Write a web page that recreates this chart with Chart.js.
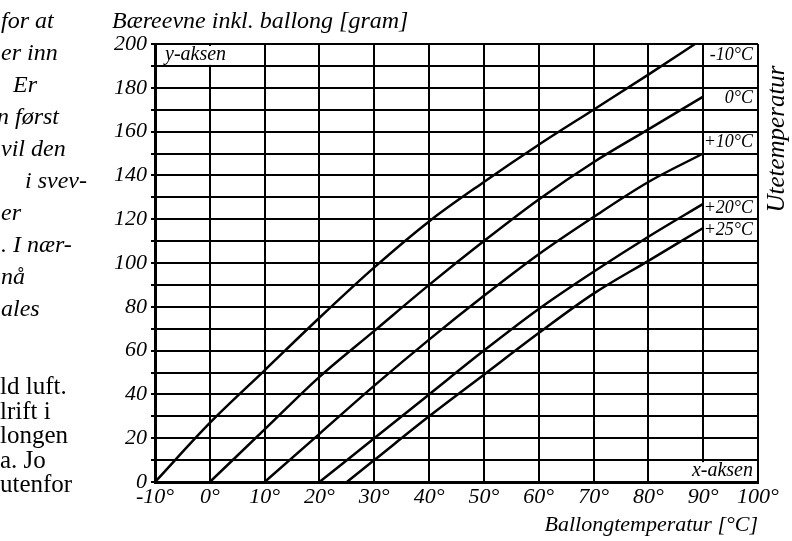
<!DOCTYPE html>
<html>
<head>
<meta charset="utf-8">
<script src="https://cdn.jsdelivr.net/npm/chart.js@4"></script>
<style>
    html, body { margin: 0; padding: 0; background: #fff; }
    #wrap { position: relative; width: 792px; height: 541px; overflow: hidden; }
    #chart { position: absolute; left: 0; top: 0; }
    .side { position: absolute; font-family: 'Liberation Serif', serif; color: #000; white-space: pre; }
    .side.it { font-style: italic; font-size: 24px; line-height: 24px; }
    .side.rg { font-size: 25px; line-height: 25px; }
</style>
</head>
<body>
<div id="wrap">
    <canvas id="chart" width="792" height="541"></canvas>
    <div id="sidetext"></div>
</div>
<script>
// Ballongtemperatur (x) og bæreevne i gram (y) for hver utetemperatur
const outsideTemps = ['-10°C', '0°C', '+10°C', '+20°C', '+25°C'];

const xMinus10 = [-10, 0, 10, 20, 30, 40, 50, 60, 70, 80, 88.5];
const yMinus10 = [0, 27, 51, 75, 98, 119, 137, 154, 170, 186, 200];

const xZero = [0, 10, 20, 30, 40, 50, 60, 70, 80, 90];
const yZero = [0, 24, 48, 69, 90, 110, 129, 146, 161, 176];

const xPlus10 = [10, 20, 30, 40, 50, 60, 70, 80, 90];
const yPlus10 = [0, 22, 44, 65, 85, 104, 121, 137, 150];

const xPlus20 = [20, 30, 40, 50, 60, 70, 80, 90];
const yPlus20 = [0, 20, 40, 60, 79, 96, 112, 127];

const xPlus25 = [25, 30, 40, 50, 60, 70, 80, 90];
const yPlus25 = [0, 10, 30, 49, 68, 86, 101, 116];

// rad (gram) der etiketten for hver kurve står i høyre kolonne
const labelRows = [195, 175, 155, 125, 115];

const xTicks = [-10, 0, 10, 20, 30, 40, 50, 60, 70, 80, 90, 100];

// avklipt brødtekst til venstre for diagrammet
const sideItalic = ['for at', 'er inn', '  Er', 'n først', 'vil den', '    i svev-', 'er', '. I nær-', 'nå', 'ales'];
const sideRegular = ['ld luft.', 'lrift i', 'longen', 'a. Jo', 'utenfor'];

const SERIF = "'Liberation Serif', 'Times New Roman', serif";

function toPoints(xs, ys) {
    return xs.map((x, i) => ({ x: x, y: ys[i] }));
}

const curves = [
    toPoints(xMinus10, yMinus10),
    toPoints(xZero, yZero),
    toPoints(xPlus10, yPlus10),
    toPoints(xPlus20, yPlus20),
    toPoints(xPlus25, yPlus25)
];

// side text
const side = document.getElementById('sidetext');
sideItalic.forEach((t, i) => {
    const d = document.createElement('div');
    d.className = 'side it';
    d.textContent = t;
    d.style.left = (i === 3 ? -3 : 1) + 'px';
    d.style.top = (8 + i * 32) + 'px';
    side.appendChild(d);
});
sideRegular.forEach((t, i) => {
    const d = document.createElement('div');
    d.className = 'side rg';
    d.textContent = t;
    d.style.left = '0px';
    d.style.top = (373 + i * 24.5) + 'px';
    side.appendChild(d);
});

// annotations: axis label, box labels and curve labels
const annotations = {
    id: 'annotations',
    beforeDatasetsDraw(chart) {
        const { ctx, scales: { x, y }, chartArea } = chart;
        ctx.save();

        // white boxes for y-aksen / x-aksen covering one grid line
        ctx.fillStyle = '#fff';
        ctx.fillRect(x.getPixelForValue(-10) + 2, y.getPixelForValue(200) + 2,
            x.getPixelForValue(10) - x.getPixelForValue(-10) - 4, y.getPixelForValue(190) - y.getPixelForValue(200) - 3);
        ctx.fillRect(x.getPixelForValue(80) + 2, y.getPixelForValue(10) + 2,
            x.getPixelForValue(100) - x.getPixelForValue(80) - 4, y.getPixelForValue(0) - y.getPixelForValue(10) - 3);

        ctx.fillStyle = '#000';
        ctx.textBaseline = 'middle';
        ctx.font = 'italic 20px ' + SERIF;
        ctx.textAlign = 'left';
        ctx.fillText('y-aksen', chartArea.left + 10, y.getPixelForValue(195));
        ctx.textAlign = 'right';
        ctx.fillText('x-aksen', chartArea.right - 5, y.getPixelForValue(5));

        ctx.font = 'italic 18px ' + SERIF;
        outsideTemps.forEach((t, i) => {
            ctx.fillText(t, chartArea.right - 5, y.getPixelForValue(labelRows[i]));
        });

        // y-akse tittel
        ctx.font = 'italic 24px ' + SERIF;
        ctx.textAlign = 'left';
        ctx.fillText('Bæreevne inkl. ballong [gram]', 112, 22);

        // høyre side
        ctx.font = 'italic 25px ' + SERIF;
        ctx.translate(777, 139);
        ctx.rotate(-Math.PI / 2);
        ctx.textAlign = 'center';
        ctx.fillText('Utetemperatur', 0, 0);
        ctx.restore();
    }
};

new Chart(document.getElementById('chart'), {
    type: 'scatter',
    data: {
        datasets: curves.map((pts, i) => ({
            label: outsideTemps[i],
            data: pts,
            showLine: true,
            borderColor: '#000',
            borderWidth: 2.5,
            pointRadius: 0,
            cubicInterpolationMode: 'monotone',
            fill: false
        }))
    },
    options: {
        responsive: false,
        animation: false,
        devicePixelRatio: 1,
        layout: {
            padding: { left: 0, top: 44, right: 34, bottom: 0 }
        },
        plugins: {
            legend: { display: false },
            tooltip: { enabled: false }
        },
        scales: {
            x: {
                type: 'linear',
                min: -10,
                max: 100,
                afterFit: (scale) => { scale.height = 59; },
                afterBuildTicks: (scale) => { scale.ticks = xTicks.map(v => ({ value: v })); },
                grid: {
                    color: '#000',
                    lineWidth: 2,
                    drawTicks: false
                },
                border: { color: '#000', width: 3 },
                ticks: {
                    autoSkip: false,
                    maxRotation: 0,
                    padding: 2,
                    color: '#000',
                    font: { family: SERIF, size: 22, style: 'italic' },
                    callback: (v) => v + '°'
                },
                title: {
                    display: true,
                    text: 'Ballongtemperatur [°C]',
                    align: 'end',
                    color: '#000',
                    padding: { top: 0, bottom: 3 },
                    font: { family: SERIF, size: 22, style: 'italic' }
                }
            },
            y: {
                type: 'linear',
                min: 0,
                max: 200,
                afterFit: (scale) => { scale.width = 155; },
                grid: {
                    color: '#000',
                    lineWidth: 2,
                    tickLength: 4
                },
                border: { color: '#000', width: 3 },
                ticks: {
                    stepSize: 10,
                    autoSkip: false,
                    padding: 4,
                    color: '#000',
                    font: { family: SERIF, size: 22, style: 'italic' },
                    callback: (v) => (v % 20 === 0 ? v : '')
                }
            }
        }
    },
    plugins: [annotations]
});
</script>
</body>
</html>
